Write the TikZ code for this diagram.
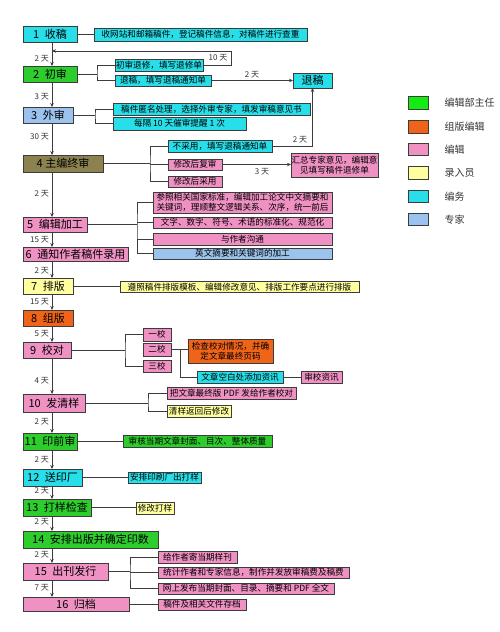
\documentclass[tikz,border=0pt]{standalone}
\usepackage{fontspec}
\setmainfont{Noto Sans CJK SC}
\usetikzlibrary{arrows.meta}
\definecolor{cyanC}{RGB}{40,222,232}
\definecolor{greenC}{RGB}{45,205,45}
\definecolor{greenL}{RGB}{20,235,20}
\definecolor{pinkC}{RGB}{240,145,195}
\definecolor{oliveC}{RGB}{140,130,80}
\definecolor{orangeC}{RGB}{240,100,25}
\definecolor{yellowC}{RGB}{255,255,160}
\definecolor{blueC}{RGB}{155,195,238}
\definecolor{lineC}{RGB}{60,60,60}
\tikzset{
  box/.style={draw=lineC, line width=0.7pt, inner sep=0pt, outer sep=0pt, align=center},
  mainbox/.style={box, font=\fontsize{11}{12}\selectfont},
  detbox/.style={box, font=\fontsize{8.6}{10.5}\selectfont},
  legbox/.style={draw=lineC, line width=0.7pt, minimum width=20pt, minimum height=12.5pt, inner sep=0pt},
  leglab/.style={anchor=west, font=\fontsize{10}{12}\selectfont, text=black!80},
  daylab/.style={anchor=east, font=\fontsize{8}{9}\selectfont, text=black!80, inner sep=1pt},
  conn/.style={draw=lineC, line width=0.7pt},
  arr/.style={conn, -{Stealth[length=4pt,width=3.5pt]}},
}
\begin{document}
\begin{tikzpicture}[x=1pt,y=-1pt]
\useasboundingbox[fill=white] (0,0) rectangle (500,632);
\coordinate (spine) at (52,0);
% main column
\node[mainbox, fill=cyanC, minimum width=54pt, minimum height=16pt] (m1) at (50,34) {1\enspace 收稿};
\node[mainbox, fill=greenC, minimum width=54pt, minimum height=16pt] (m2) at (50,74) {2\enspace 初审};
\node[mainbox, fill=blueC, minimum width=50pt, minimum height=16pt] (m3) at (48,115) {3\enspace 外审};
\node[mainbox, fill=oliveC, minimum width=80pt, minimum height=17pt] (m4) at (63,163.5) {4 主编终审};
\node[mainbox, fill=pinkC, minimum width=64pt, minimum height=15pt] (m5) at (55,224.5) {5\enspace 编辑加工};
\node[mainbox, fill=pinkC, minimum width=105pt, minimum height=14pt] (m6) at (75.5,254) {6\enspace 通知作者稿件录用};
\node[mainbox, fill=yellowC, minimum width=50pt, minimum height=16pt] (m7) at (48,286) {7\enspace 排版};
\node[mainbox, fill=orangeC, minimum width=50pt, minimum height=16pt] (m8) at (48,318) {8\enspace 组版};
\node[mainbox, fill=pinkC, minimum width=48pt, minimum height=16pt] (m9) at (47,350) {9\enspace 校对};
\node[mainbox, fill=pinkC, minimum width=62pt, minimum height=18pt] (m10) at (54,403) {10\enspace 发清样};
\node[mainbox, fill=greenC, minimum width=54pt, minimum height=17pt] (m11) at (50,441.5) {11\enspace 印前审};
\node[mainbox, fill=cyanC, minimum width=59pt, minimum height=17pt] (m12) at (52.5,477.5) {12\enspace 送印厂};
\node[mainbox, fill=greenC, minimum width=68pt, minimum height=17pt] (m13) at (57,507.5) {13\enspace 打样检查};
\node[mainbox, fill=greenC, minimum width=135pt, minimum height=17pt] (m14) at (90.5,539.5) {14\enspace 安排出版并确定印数};
\node[mainbox, fill=pinkC, minimum width=85pt, minimum height=17pt] (m15) at (65.5,571.5) {15\enspace 出刊发行};
\node[mainbox, fill=pinkC, minimum width=106pt, minimum height=14pt] (m16) at (76,604) {16\enspace 归档};
% spine arrows
\foreach \a/\b in {m1/m2,m2/m3,m3/m4,m4/m5,m5/m6,m6/m7,m7/m8,m8/m9,m9/m10,m10/m11,m11/m12,m12/m13,m13/m14,m14/m15,m15/m16}
  \draw[arr] (\a.south -| spine) -- (\b.north -| spine);
% day labels
\node[daylab] (t1) at (50,59) {2 天};
\node[daylab] (t2) at (50,97) {3 天};
\node[daylab] (t3) at (50,137) {30 天};
\node[daylab] (t4) at (50,194) {2 天};
\node[daylab] (t5) at (50,240) {15 天};
\node[daylab] (t6) at (50,271) {2 天};
\node[daylab] (t7) at (50,302) {15 天};
\node[daylab] (t8) at (50,334) {5 天};
\node[daylab] (t9) at (50,381) {4 天};
\node[daylab] (t10) at (50,422) {2 天};
\node[daylab] (t11) at (50,460) {2 天};
\node[daylab] (t12) at (50,491) {2 天};
\node[daylab] (t13) at (50,522) {2 天};
\node[daylab] (t14) at (50,555) {2 天};
\node[daylab] (t15) at (50,588) {7 天};
% step 1
\node[detbox, fill=cyanC, minimum width=213pt, minimum height=13pt] (d1) at (200.5,34.5) {收网站和邮箱稿件，登记稿件信息，对稿件进行查重};
\draw[conn] (m1.east) -- (d1.west |- m1.east);
% step 2
\node[detbox, fill=cyanC, minimum width=88pt, minimum height=12pt] (d2a) at (159,65) {初审退修，填写退修单};
\node[detbox, fill=cyanC, minimum width=96pt, minimum height=11pt] (d2b) at (163,80.5) {退稿，填写退稿通知单};
\node[mainbox, fill=cyanC, minimum width=39pt, minimum height=15pt] (tg) at (312.5,80.5) {退稿};
\coordinate (b2) at (97,74);
\draw[conn] (m2.east) -- (b2);
\draw[conn] (d2a.west) -| (b2) |- (d2b.west);
\coordinate (r2) at (231,51);
\draw[arr] (d2a.east) -| (r2) -- (r2 -| spine);
\node[daylab, anchor=center] (t10d) at (218,58) {10 天};
\draw[arr] (d2b.east) -- node[above, daylab, anchor=south, yshift=1pt] (t2d) {2 天} (tg.west);
% step 3
\node[detbox, fill=cyanC, minimum width=197pt, minimum height=12pt] (d3a) at (211.5,109) {稿件匿名处理，选择外审专家，填发审稿意见书};
\node[detbox, fill=cyanC, minimum width=133pt, minimum height=13pt] (d3b) at (179.5,123.5) {每隔 10 天催审提醒 1 次};
\coordinate (b3) at (95,115);
\draw[conn] (m3.east) -- (b3);
\draw[conn] (d3a.west) -| (b3) |- (d3b.west);
% step 4
\node[detbox, fill=cyanC, minimum width=104pt, minimum height=12pt] (d4a) at (220,146) {不采用，填写退稿通知单};
\node[detbox, fill=pinkC, minimum width=54pt, minimum height=11pt] (d4b) at (195,164.5) {修改后复审};
\node[detbox, fill=pinkC, minimum width=54pt, minimum height=11pt] (d4c) at (195,181.5) {修改后采用};
\node[detbox, fill=pinkC, minimum width=87pt, minimum height=24pt] (hz) at (334.5,165) {汇总专家意见，编辑意\\见填写稿件退修单};
\coordinate (b4) at (150,163.5);
\draw[conn] (m4.east) -- (b4);
\draw[conn] (d4a.west) -| (b4) |- (d4c.west);
\draw[conn] (b4 |- d4b.west) -- (d4b.west);
\draw[arr] (d4a.east) -| (tg.south);
\node[daylab, anchor=center] (t4d) at (300,140) {2 天};
\draw[arr] (d4b.east) -- (hz.west |- d4b.east);
\node[daylab, anchor=center] (t4e) at (262,172) {3 天};
% step 5
\node[detbox, fill=pinkC, minimum width=179pt, minimum height=21pt, align=left] (d5a) at (242.5,202.5) {参照相关国家标准，编辑加工论文中文摘要和\\关键词，理顺整文逻辑关系、次序，统一前后};
\node[detbox, fill=pinkC, minimum width=179pt, minimum height=11pt] (d5b) at (242.5,222.5) {文字、数字、符号、术语的标准化、规范化};
\node[detbox, fill=pinkC, minimum width=179pt, minimum height=12pt] (d5c) at (242.5,239) {与作者沟通};
\node[detbox, fill=blueC, minimum width=179pt, minimum height=11pt] (d5d) at (242.5,253.5) {英文摘要和关键词的加工};
\coordinate (b5) at (137,224.5);
\draw[conn] (m5.east) -- (b5);
\draw[conn] (d5a.west) -| (b5) |- (d5d.west);
\draw[conn] (b5 |- d5b.west) -- (d5b.west);
\draw[conn] (b5 |- d5c.west) -- (d5c.west);
% step 7
\node[detbox, fill=yellowC, minimum width=239pt, minimum height=11pt] (d7) at (239.5,287) {遵照稿件排版模板、编辑修改意见、排版工作要点进行排版};
\draw[conn] (m7.east) -- (d7.west |- m7.east);
% step 9
\node[detbox, fill=pinkC, minimum width=28pt, minimum height=13pt] (d9a) at (157,334.5) {一校};
\node[detbox, fill=pinkC, minimum width=28pt, minimum height=13pt] (d9b) at (157,349.5) {二校};
\node[detbox, fill=pinkC, minimum width=28pt, minimum height=12pt] (d9c) at (157,366) {三校};
\node[detbox, fill=orangeC, minimum width=85pt, minimum height=24pt] (d9d) at (230.5,351) {检查校对情况，并确\\定文章最终页码};
\node[detbox, fill=cyanC, minimum width=86pt, minimum height=12pt] (d9e) at (240,377) {文章空白处添加资讯};
\node[detbox, fill=pinkC, minimum width=41pt, minimum height=12pt] (d9f) at (321.5,377) {审校资讯};
\coordinate (b9) at (125,350);
\draw[conn] (m9.east) -- (b9);
\draw[conn] (d9a.west) -| (b9) |- (d9c.west);
\coordinate (c9) at (180,349.5);
\draw[conn] (d9b.east) -- (c9) -- (d9d.west |- c9);
\draw[conn] (c9) |- (d9e.west);
\draw[conn] (d9e.east) -- (d9f.west);
% step 10
\node[detbox, fill=pinkC, minimum width=129pt, minimum height=12pt] (d10a) at (231.5,393) {把文章最终版 PDF 发给作者校对};
\node[detbox, fill=yellowC, minimum width=64pt, minimum height=12pt] (d10b) at (199,411) {清样返回后修改};
\coordinate (b10) at (148,403);
\draw[conn] (m10.east) -- (b10);
\draw[conn] (d10a.west) -| (b10) |- (d10b.west);
% steps 11-13
\node[detbox, fill=greenC, minimum width=149pt, minimum height=12pt] (d11) at (197.5,441) {审核当期文章封面、目次、整体质量};
\draw[conn] (m11.east) -- (d11.west |- m11.east);
\node[detbox, fill=cyanC, minimum width=73pt, minimum height=11pt] (d12) at (164.5,477.5) {安排印刷厂出打样};
\draw[conn] (m12.east) -- (d12.west |- m12.east);
\node[detbox, fill=yellowC, minimum width=38pt, minimum height=12pt] (d13) at (155,508) {修改打样};
\draw[conn] (m13.east) -- (d13.west |- m13.east);
% step 15
\node[detbox, fill=pinkC, minimum width=79pt, minimum height=12pt] (d15a) at (197.5,557) {给作者寄当期样刊};
\node[detbox, fill=pinkC, minimum width=191pt, minimum height=11pt] (d15b) at (253.5,572.5) {统计作者和专家信息，制作并发放审稿费及稿费};
\node[detbox, fill=pinkC, minimum width=176pt, minimum height=11pt] (d15c) at (246,588.5) {网上发布当期封面、目录、摘要和 PDF 全文};
\coordinate (b15) at (130,571.5);
\draw[conn] (m15.east) -- (b15);
\draw[conn] (d15a.west) -| (b15) |- (d15c.west);
\draw[conn] (b15 |- d15b.west) -- (d15b.west);
% step 16
\node[detbox, fill=pinkC, minimum width=88pt, minimum height=11pt] (d16) at (202,604.5) {稿件及相关文件存档};
\draw[conn] (m16.east) -- (d16.west |- m16.east);
% legend
\node[legbox, fill=greenL] (l1) at (418,103) {};
\node[legbox, fill=orangeC] (l2) at (418,127) {};
\node[legbox, fill=pinkC] (l3) at (418,149.5) {};
\node[legbox, fill=yellowC] (l4) at (418,173) {};
\node[legbox, fill=cyanC] (l5) at (418,196.5) {};
\node[legbox, fill=blueC] (l6) at (418,219.5) {};
\node[leglab] (k1) at (441,103) {编辑部主任};
\node[leglab] (k2) at (441,127) {组版编辑};
\node[leglab] (k3) at (441,149.5) {编辑};
\node[leglab] (k4) at (441,173) {录入员};
\node[leglab] (k5) at (441,196.5) {编务};
\node[leglab] (k6) at (441,219.5) {专家};
\end{tikzpicture}
\end{document}
